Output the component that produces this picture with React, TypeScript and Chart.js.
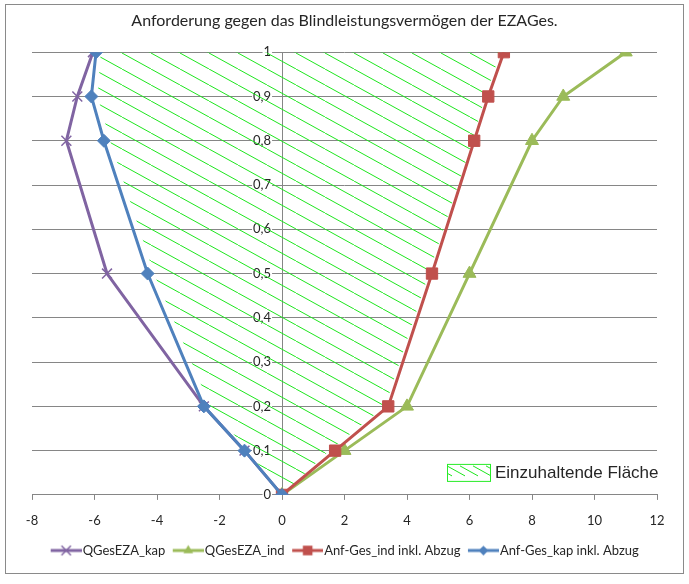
import React, { useEffect, useRef } from "react";
import { Chart, registerables } from "chart.js";

Chart.register(...registerables);

const titleText = "Anforderung gegen das Blindleistungsvermögen der EZAGes.";
const yLevels = [0, 0.1, 0.2, 0.5, 0.8, 0.9, 1];
const qGesEZAKap = [0, -1.2, -2.5, -5.6, -6.9, -6.55, -6.05];
const qGesEZAInd = [0, 2, 4, 6, 8, 9, 11];
const anfGesInd = [0, 1.7, 3.4, 4.8, 6.15, 6.6, 7.1];
const anfGesKap = [0, -1.2, -2.5, -4.3, -5.7, -6.1, -5.95];
const hatchLeft = [0, -1.1, -2.3, -4.1, -5.5, -5.9, -5.8];
const hatchRight = [0, 1.5, 3.3, 4.7, 6.1, 6.5, 7.0];
const seriesNames = ["QGesEZA_kap", "QGesEZA_ind", "Anf-Ges_ind inkl. Abzug", "Anf-Ges_kap inkl. Abzug"];
const hatchName = "Einzuhaltende Fläche";
const xMin = -8, xMax = 12, xStep = 2;
const yMin = 0, yMax = 1, yStep = 0.1;
const yAxisAt = 0;          // vertical axis line crosses at x = 0
const yLabelAnchor = -0.35; // y tick labels end slightly left of the axis line

const COLORS = ["#8064A2", "#9BBB59", "#C0504D", "#4F81BD"];
const STYLES = ["crossRot", "triangle", "rect", "rectRot"];
const RADII = [7, 7.5, 8, 6.5];
const HATCH_GREEN = "rgb(30,230,30)";
const FONT = "Lato, 'Open Sans', sans-serif";

function toPts(xs: number[]) {
  return xs.map((x, i) => ({ x, y: yLevels[i] }));
}

function makeHatch(): CanvasPattern | string {
  const c = document.createElement("canvas");
  c.width = 29;
  c.height = 16;
  const g = c.getContext("2d");
  if (!g) return HATCH_GREEN;
  g.strokeStyle = HATCH_GREEN;
  g.lineWidth = 1;
  g.beginPath();
  g.moveTo(-2, -16 / 29 * 2);
  g.lineTo(31, 16 + 16 / 29 * 2);
  g.stroke();
  const p = g.createPattern(c, "repeat");
  return p || HATCH_GREEN;
}

// icon canvas: 37 wide, symbol drawn in the right 31 px (offset 6)
function legendIcon(color: string, style: string, radius: number): HTMLCanvasElement {
  const c = document.createElement("canvas");
  c.width = 37;
  c.height = 14;
  const g = c.getContext("2d");
  if (g) {
    const x0 = 6, x1 = 37, cx = (x0 + x1) / 2, cy = 7;
    g.strokeStyle = color;
    g.lineWidth = 3;
    g.beginPath();
    g.moveTo(x0, cy);
    g.lineTo(x1, cy);
    g.stroke();
    g.fillStyle = color;
    g.lineWidth = style === "crossRot" ? 1.5 : 1;
    const r = radius * 0.75;
    if (style === "crossRot") {
      const d = r * Math.SQRT1_2 + 1;
      g.beginPath();
      g.moveTo(cx - d, cy - d); g.lineTo(cx + d, cy + d);
      g.moveTo(cx - d, cy + d); g.lineTo(cx + d, cy - d);
      g.stroke();
    } else if (style === "triangle") {
      g.beginPath();
      g.moveTo(cx, cy - r);
      g.lineTo(cx + r * 0.866, cy + r / 2);
      g.lineTo(cx - r * 0.866, cy + r / 2);
      g.closePath();
      g.fill();
    } else if (style === "rect") {
      const s = r * 0.8;
      g.fillRect(cx - s, cy - s, 2 * s, 2 * s);
    } else {
      g.beginPath();
      g.moveTo(cx, cy - r); g.lineTo(cx + r, cy); g.lineTo(cx, cy + r); g.lineTo(cx - r, cy);
      g.closePath();
      g.fill();
    }
  }
  return c;
}

export default function App() {
  const ref = useRef<HTMLCanvasElement | null>(null);

  useEffect(() => {
    if (!ref.current) return;
    const hatch = makeHatch();
    const icons = COLORS.map((c, i) => legendIcon(c, STYLES[i], RADII[i]));
    const series = [qGesEZAKap, qGesEZAInd, anfGesInd, anfGesKap];
    const drawOrder = [3, 2, 1, 0];

    const datasets: any[] = series.map((vals, i) => ({
      label: seriesNames[i],
      data: toPts(vals),
      borderColor: COLORS[i],
      backgroundColor: COLORS[i],
      borderWidth: 3,
      pointStyle: STYLES[i],
      pointRadius: RADII[i],
      pointBorderWidth: STYLES[i] === "crossRot" ? 1.5 : 1,
      pointBorderColor: COLORS[i],
      pointBackgroundColor: COLORS[i],
      fill: false,
      tension: 0,
      order: drawOrder[i],
    }));
    datasets.push({
      label: hatchName,
      data: toPts(hatchLeft),
      borderWidth: 0,
      borderColor: "rgba(0,0,0,0)",
      pointRadius: 0,
      backgroundColor: hatch,
      fill: "+1",
      order: 10,
    });
    datasets.push({
      label: hatchName + " (rechts)",
      data: toPts(hatchRight),
      borderWidth: 0,
      borderColor: "rgba(0,0,0,0)",
      pointRadius: 0,
      fill: false,
      order: 11,
    });

    const hatchLegend = {
      id: "hatchLegend",
      afterDraw(chart: any) {
        const { ctx, chartArea } = chart;
        const x = chartArea.right - 210;
        const y = chartArea.bottom - 31;
        ctx.save();
        ctx.fillStyle = "#ffffff";
        ctx.fillRect(x, y, 44, 18);
        ctx.beginPath();
        ctx.rect(x, y, 44, 18);
        ctx.clip();
        ctx.strokeStyle = HATCH_GREEN;
        ctx.lineWidth = 1;
        for (let k = -2; k < 5; k++) {
          const sx = x + k * 13;
          ctx.beginPath();
          ctx.moveTo(sx, y + 2);
          ctx.lineTo(sx + 18, y + 12);
          ctx.stroke();
        }
        ctx.restore();
        ctx.save();
        ctx.strokeStyle = "rgb(40,235,40)";
        ctx.lineWidth = 1;
        ctx.strokeRect(x + 0.5, y + 0.5, 43, 17);
        ctx.fillStyle = "#262626";
        ctx.font = "17px 'Liberation Sans', Arial, sans-serif";
        ctx.textBaseline = "middle";
        ctx.textAlign = "left";
        ctx.fillText(hatchName, x + 48, y + 9.5);
        ctx.restore();
      },
    };

    const chart = new Chart(ref.current, {
      type: "line",
      data: { datasets },
      plugins: [hatchLegend],
      options: {
        animation: false,
        responsive: false,
        indexAxis: "y",
        layout: { padding: { left: 26, right: 26, top: 0, bottom: 6 } },
        scales: {
          x: {
            type: "linear",
            min: xMin,
            max: xMax,
            afterFit: (scale: any) => {
              scale.height -= 4.5;
            },
            ticks: { stepSize: xStep, padding: 13, color: "#262626", font: { family: FONT, size: 13 } },
            grid: { drawOnChartArea: false, drawTicks: true, tickLength: 5, color: "#868686" },
            border: { display: true, color: "#868686" },
          },
          y: {
            type: "linear",
            min: yMin,
            max: yMax,
            position: { x: yLabelAnchor },
            ticks: {
              stepSize: yStep,
              color: "#262626",
              font: { family: FONT, size: 13 },
              showLabelBackdrop: true,
              backdropColor: "#ffffff",
              backdropPadding: { x: 1, y: 0 },
              callback: (v: any) => (Math.round(Number(v) * 10) / 10).toString().replace(".", ","),
            },
            grid: { drawTicks: false, color: "#868686" },
            border: { display: false },
          },
          yLine: {
            type: "linear",
            axis: "y",
            min: yMin,
            max: yMax,
            position: { x: yAxisAt },
            ticks: { display: false },
            grid: { display: false, drawTicks: false },
            border: { display: true, color: "#868686" },
          },
        },
        plugins: {
          title: {
            display: true,
            text: titleText,
            color: "#262626",
            font: { family: FONT, size: 16, weight: "normal" },
            padding: { top: 6, bottom: 22 },
          },
          legend: {
            position: "bottom",
            labels: {
              usePointStyle: true,
              pointStyleWidth: 26,
              padding: 7,
              color: "#262626",
              font: { family: FONT, size: 13 },
              generateLabels: (ch: any) =>
                ch.data.datasets.slice(0, 4).map((ds: any, i: number) => ({
                  text: ds.label,
                  datasetIndex: i,
                  pointStyle: icons[i],
                  fillStyle: COLORS[i],
                  strokeStyle: COLORS[i],
                  fontColor: "#262626",
                  lineWidth: 0,
                  hidden: false,
                })),
            },
          },
          tooltip: { enabled: false },
        },
      } as any,
    });
    return () => chart.destroy();
  }, []);

  return (
    <div
      style={{
        position: "absolute",
        left: 5,
        top: 4,
        width: 677,
        height: 568,
        border: "1px solid #8a8a8a",
        background: "#fff",
      }}
    >
      <canvas ref={ref} width={677} height={568} style={{ display: "block" }} />
    </div>
  );
}
